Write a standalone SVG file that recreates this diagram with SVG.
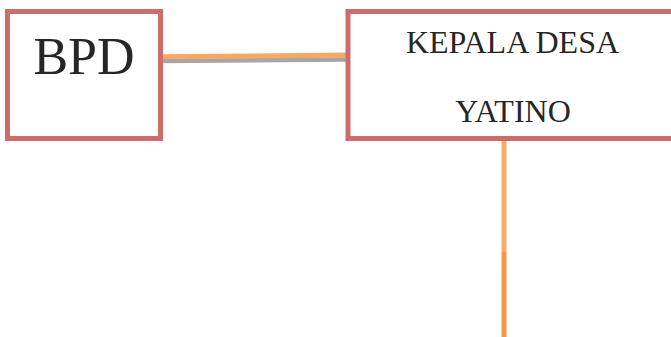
<svg xmlns="http://www.w3.org/2000/svg" width="671" height="337" viewBox="0 0 671 337">
  <style>
    .box { fill: #ffffff; stroke: #CD6D6B; stroke-width: 5; }
    .txt { font-family: "Liberation Serif", "Times New Roman", serif; fill: #262626; text-anchor: middle; }
  </style>
  <rect width="671" height="337" fill="#ffffff"/>
  <g id="connectors">
    <line x1="161" y1="61" x2="348" y2="59.5" stroke="#A6A6A6" stroke-width="4.5"/>
    <line x1="161" y1="56.8" x2="348" y2="55" stroke="#F9A862" stroke-width="5"/>
    <line x1="504" y1="139" x2="504" y2="252" stroke="#F9AA66" stroke-width="5"/>
    <line x1="504" y1="252" x2="504" y2="337" stroke="#F79646" stroke-width="5"/>
  </g>
  <g id="bpd">
    <rect class="box" x="7.5" y="11.5" width="153" height="127"/>
    <text class="txt" x="84" y="74" font-size="52">BPD</text>
  </g>
  <g id="kepala-desa">
    <rect class="box" x="348" y="11.5" width="330" height="127"/>
    <text class="txt" x="512.5" y="53.3" font-size="32">KEPALA DESA</text>
    <text class="txt" x="513" y="121.7" font-size="32">YATINO</text>
  </g>
</svg>
